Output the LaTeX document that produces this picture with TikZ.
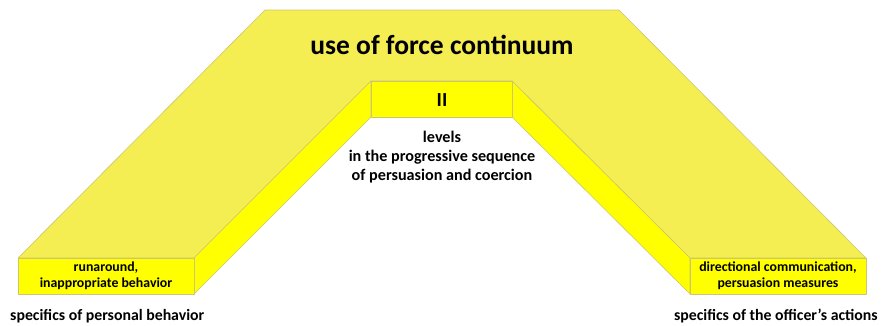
\documentclass[tikz,border=0pt]{standalone}
\usepackage{fontspec}
\setmainfont{Carlito}
\usepackage{tikz}
\usetikzlibrary{positioning, calc}
\definecolor{topface}{RGB}{245,238,82}
\definecolor{frontface}{RGB}{255,255,0}
\definecolor{edgeline}{RGB}{205,198,110}

\begin{document}
\begin{tikzpicture}[x=0.03cm, y=0.03cm,
			face/.style={fill=#1, draw=edgeline, line width=0.5pt, line join=round},
			lbl/.style={align=center, font=\bfseries\fontsize{11.8}{13.8}\selectfont, inner sep=0pt},
			note/.style={font=\bfseries\fontsize{13.5}{15}\selectfont, inner sep=0pt}]
			%Rahmen
			\useasboundingbox (0,0) rectangle (886,325);
			% Eckpunkte
			\coordinate (lo) at (18,67);   \coordinate (tl) at (265,315);
			\coordinate (tr) at (619,315); \coordinate (ro) at (866,67);
			\coordinate (ri) at (690,67);  \coordinate (ir) at (512,244);
			\coordinate (il) at (371,244); \coordinate (li) at (194,67);
			% Oberseite
			\draw[face=topface] (lo) -- (tl) -- (tr) -- (ro) -- (ri) -- (ir) -- (il) -- (li) -- cycle;
			% Seitenflaechen
			\draw[face=frontface] (li) -- (il) -- ++(0,-36) -- ($(li)+(0,-36)$) -- cycle;
			\draw[face=frontface] (ir) -- (ri) -- ++(0,-36) -- ($(ir)+(0,-36)$) -- cycle;
			% Vorderflaechen
			\draw[face=frontface] (lo) -- (li) -- ++(0,-36) -- ($(lo)+(0,-36)$) -- cycle;
			\draw[face=frontface] (il) -- (ir) -- ++(0,-36) -- ($(il)+(0,-36)$) -- cycle;
			\draw[face=frontface] (ri) -- (ro) -- ++(0,-36) -- ($(ri)+(0,-36)$) -- cycle;
			%Beschriftung
			\node[font=\bfseries\fontsize{23.5}{26}\selectfont] (title) at (442,280) {use of force continuum};
			\node[font=\bfseries\fontsize{17}{18}\selectfont] (level) at (442,225) {II};
			\node[lbl, font=\bfseries\fontsize{13.8}{16}\selectfont] (levels) at (442,168)
				{levels\\in the progressive sequence\\of persuasion and coercion};
			\node[lbl] (person) at (106,49) {runaround,\\inappropriate behavior};
			\node[lbl] (officer) at (778,49) {directional communication,\\persuasion measures};
			\node[note, anchor=west] (pspec) at (10,9) {specifics of personal behavior};
			\node[note, anchor=east] (ospec) at (878,9) {specifics of the officer’s actions};
		\end{tikzpicture}
\end{document}
